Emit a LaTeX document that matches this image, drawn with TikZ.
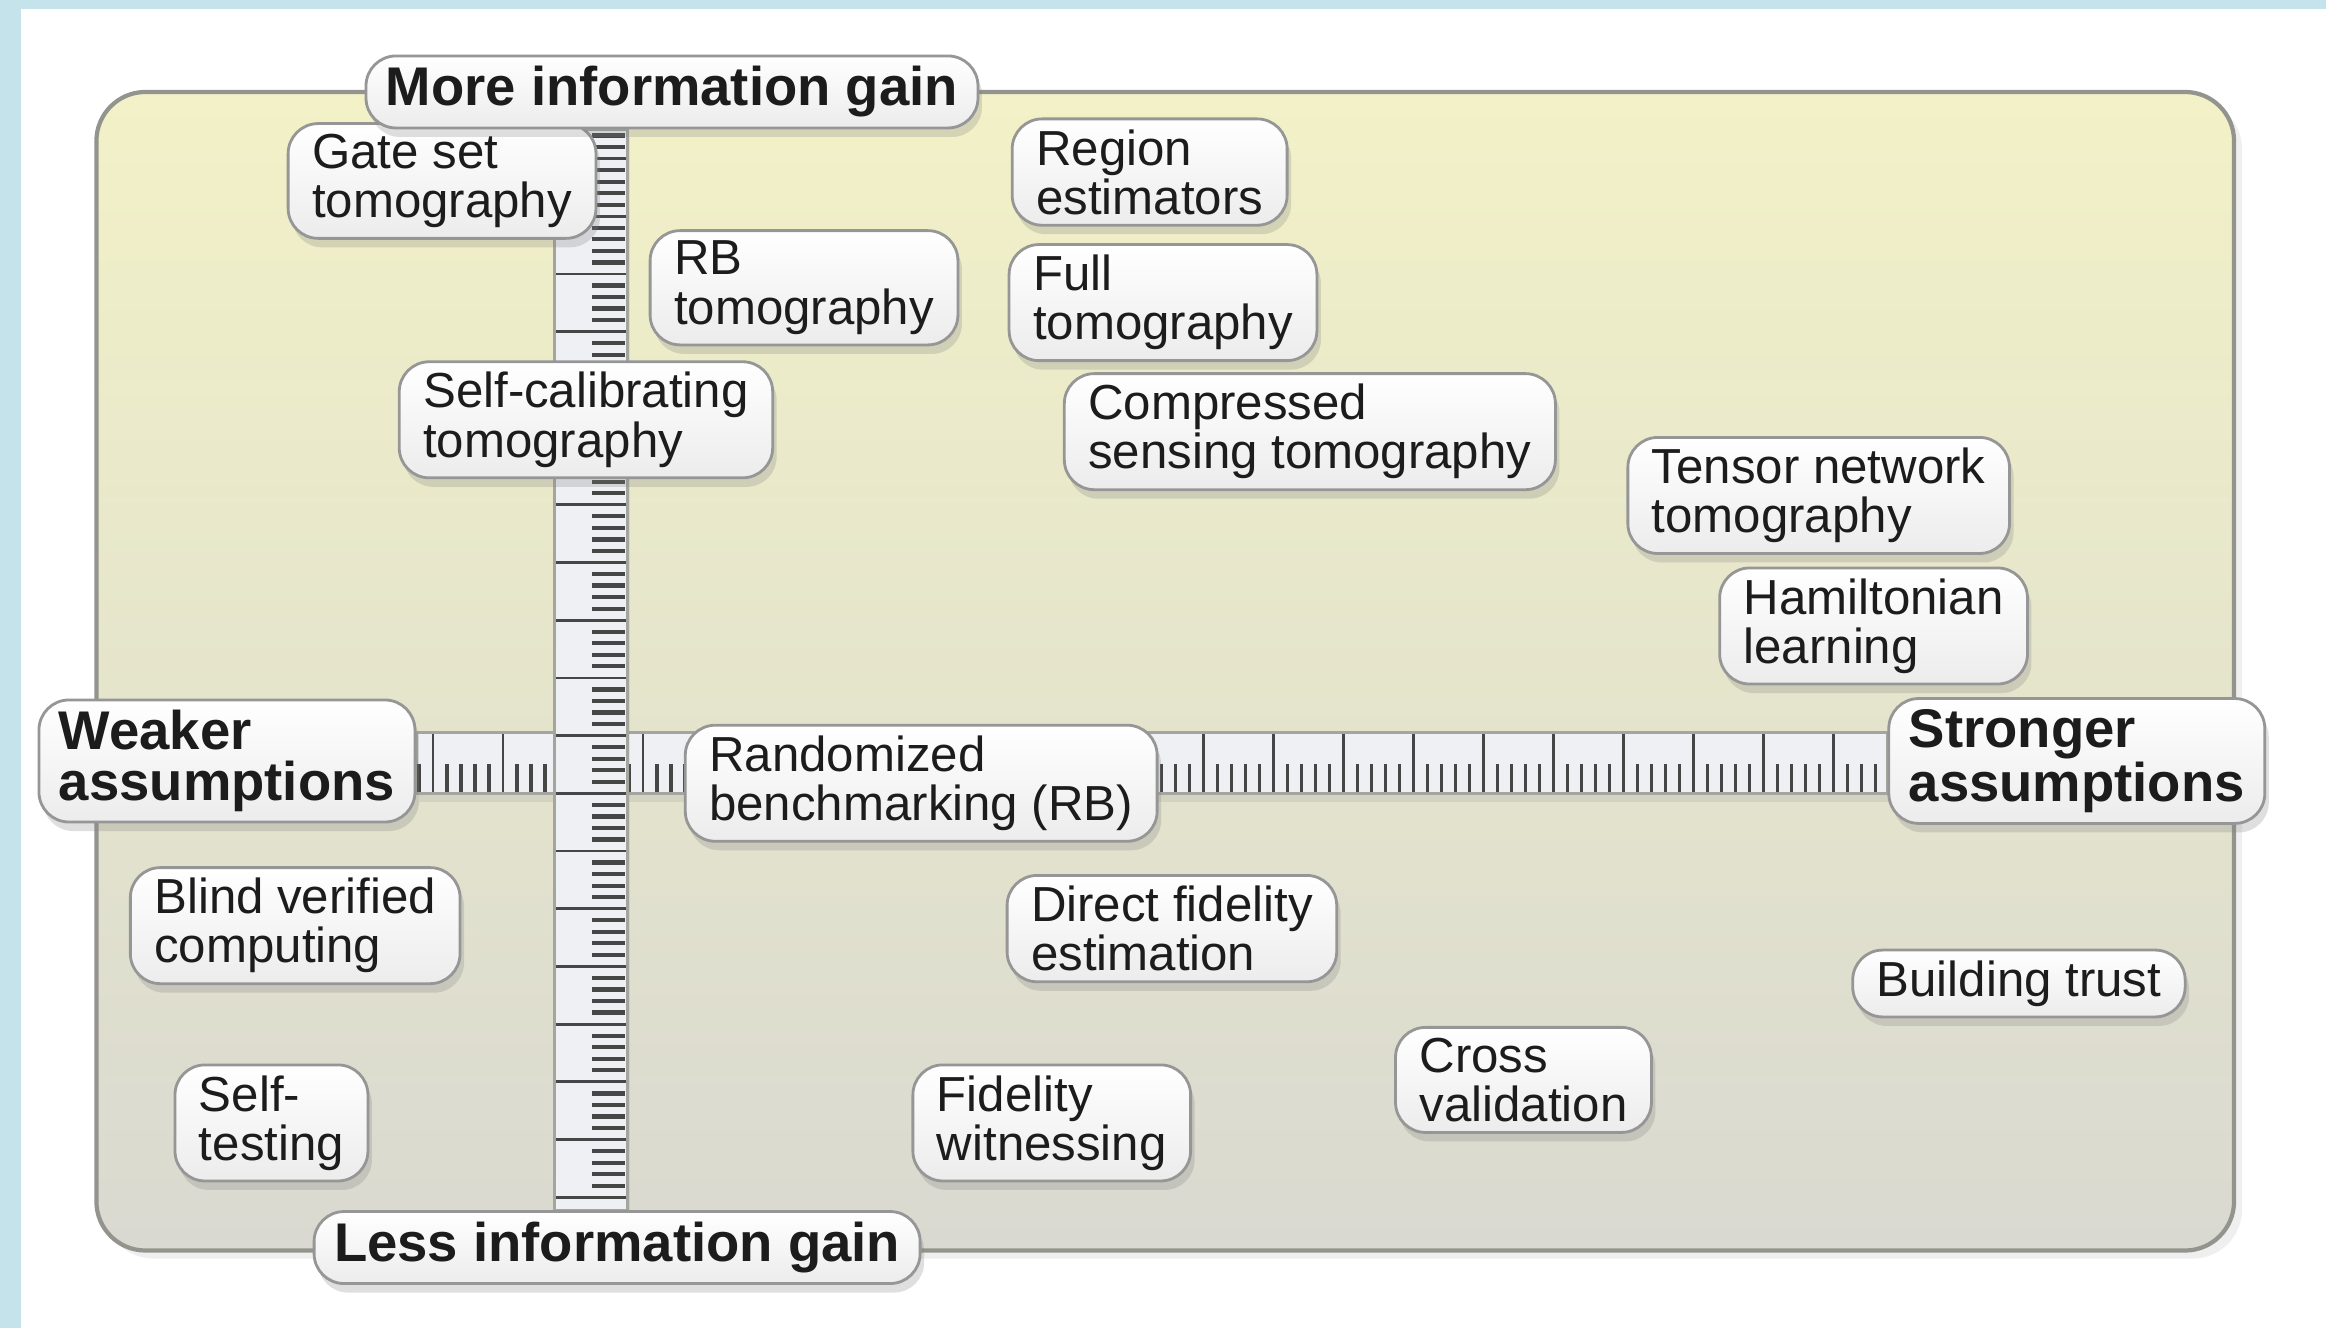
\documentclass[tikz,border=0pt]{standalone}
\usepackage{fontspec}
\setmainfont{Liberation Sans}
\usepackage{tikz}
\usetikzlibrary{shadows}
\pgfdeclarelayer{panellayer}
\pgfdeclarelayer{edgelayer}
\pgfsetlayers{panellayer,edgelayer,main}
\definecolor{frameblue}{RGB}{197,227,235}
\definecolor{paneltop}{RGB}{242,241,199}
\definecolor{panelbot}{RGB}{217,217,209}
\definecolor{panelline}{RGB}{148,148,142}
\definecolor{boxline}{RGB}{150,150,150}
\definecolor{boxbot}{RGB}{236,236,236}
\definecolor{rulerfill}{RGB}{238,240,243}
\definecolor{rulerline}{RGB}{165,165,160}
\definecolor{tickgray}{RGB}{70,70,70}
\definecolor{textdark}{RGB}{28,28,28}
\tikzstyle{method}=[draw=boxline,line width=0.8pt,rounded corners=3mm,top color=white,bottom color=boxbot,align=left,inner xsep=2.4mm,inner ysep=1.05mm,text=textdark,font=\fontsize{14}{14}\selectfont,drop shadow={opacity=0.25,shadow xshift=0.4mm,shadow yshift=-0.9mm}]
\tikzstyle{axislabel}=[method,inner xsep=2mm,font=\bfseries\fontsize{15.5}{14.3}\selectfont]
\tikzstyle{ruler}=[draw=rulerline,fill=rulerfill,line width=0.9pt,drop shadow={opacity=0.15,shadow xshift=0.3mm,shadow yshift=-0.8mm}]
\tikzstyle{tick}=[tickgray,line width=0.8pt]

\begin{document}
\begin{tikzpicture}[x=0.14834mm,y=-0.14834mm]
\useasboundingbox (0,0) rectangle (1568,895);

% upper half
\node[method] (GST) at (298,122) {Gate set\\tomography};
\node[axislabel] (More) at (453,62) {More information gain};
\node[method] (RBT) at (542,194) {RB\\tomography};
\node[method] (SCT) at (395,283) {Self-calibrating\\tomography};
\node[method] (RE) at (775,116) {Region\\estimators};
\node[method] (FT) at (784,204) {Full\\tomography};
\node[method] (CST) at (883,291) {Compressed\\sensing tomography};
\node[method] (TNT) at (1226,334) {Tensor network\\tomography};
\node[method] (HL) at (1263,422) {Hamiltonian\\learning};

% axis ends
\node[axislabel] (Weak) at (153,513) {Weaker\\assumptions};
\node[axislabel] (Strong) at (1400,513) {Stronger\\assumptions};
\node[method] (RB) at (621,528) {Randomized\\benchmarking (RB)};

% lower half
\node[method] (BVC) at (199,624) {Blind verified\\computing};
\node[method] (DFE) at (790,626) {Direct fidelity\\estimation};
\node[method] (BT) at (1361,663) {Building trust};
\node[method] (CV) at (1027,728) {Cross\\validation};
\node[method] (ST) at (183,757) {Self-\\testing};
\node[method] (FW) at (709,757) {Fidelity\\witnessing};
\node[axislabel] (Less) at (416,841) {Less information gain};

\begin{pgfonlayer}{panellayer}
\fill[white] (0,0) rectangle (1568,895);
\fill[frameblue] (0,0) rectangle (1568,6);
\fill[frameblue] (0,0) rectangle (14,895);
\draw[panelline,line width=1.2pt,rounded corners=4.9mm,top color=paneltop,bottom color=panelbot,
  drop shadow={opacity=0.12,shadow xshift=0.8mm,shadow yshift=-0.8mm}] (65,62) rectangle (1506,843);
\end{pgfonlayer}

\begin{pgfonlayer}{edgelayer}
\coordinate (hT) at (0,494);
\coordinate (hB) at (0,535);
\coordinate (vL) at (374,0);
\coordinate (vR) at (423,0);
% assumptions ruler
\draw[ruler] (Weak.east |- hT) rectangle (Strong.west |- hB);
\foreach \i in {0,...,104}{
  \pgfmathsetmacro{\x}{282.56+9.44*\i}
  \pgfmathtruncatemacro{\m}{mod(\i,5)}
  \ifnum\m=1 \draw[tick,line width=0.7pt] (\x,495) -- (\x,534); \else \draw[tick,line width=1pt] (\x,515) -- (\x,534); \fi
}
% information ruler
\draw[ruler] (vL |- More.south) rectangle (vR |- Less.north);
\foreach \i in {3,...,95}{
  \pgfmathsetmacro{\y}{68+7.78*\i}
  \pgfmathtruncatemacro{\m}{mod(\i,5)}
  \ifnum\m=0 \draw[tick] (375,\y) -- (422,\y); \else \draw[tick,line width=1.2pt] (399,\y) -- (421,\y); \fi
}
\end{pgfonlayer}
\end{tikzpicture}
\end{document}
